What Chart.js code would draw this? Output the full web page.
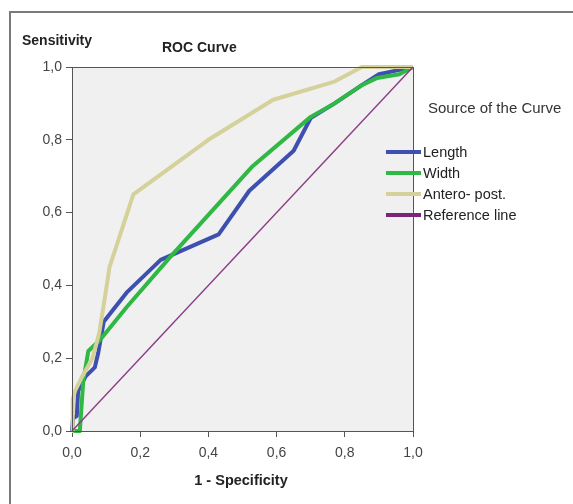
<!DOCTYPE html>
<html><head><meta charset="utf-8">
<script src="https://cdn.jsdelivr.net/npm/chart.js@4"></script>
<style>html,body{margin:0;padding:0;background:#fff}#wrap{width:573px;height:504px;position:relative}</style>
</head><body><div id="wrap"><canvas id="c" width="573" height="504"></canvas></div>
<script>
// ---- data ----
const lengthX = [0, 0.003, 0.014, 0.018, 0.04, 0.067, 0.077, 0.093, 0.16, 0.26, 0.43, 0.52, 0.65, 0.70, 0.77, 0.85, 0.90, 0.95, 1.0];
const lengthY = [0, 0.035, 0.041, 0.11, 0.15, 0.175, 0.215, 0.30, 0.38, 0.47, 0.54, 0.66, 0.77, 0.86, 0.90, 0.95, 0.98, 0.99, 1.0];
const widthX  = [0, 0.023, 0.033, 0.048, 0.082, 0.16, 0.287, 0.527, 0.70, 0.77, 0.85, 0.895, 0.96, 1.0];
const widthY  = [0, 0, 0.138, 0.22, 0.25, 0.34, 0.477, 0.725, 0.863, 0.90, 0.95, 0.97, 0.98, 1.0];
const anteroX = [0, 0.002, 0.009, 0.03, 0.06, 0.08, 0.097, 0.11, 0.18, 0.40, 0.59, 0.77, 0.85, 1.0];
const anteroY = [0, 0.087, 0.11, 0.15, 0.20, 0.27, 0.37, 0.45, 0.65, 0.80, 0.91, 0.96, 1.0, 1.0];
const refX = [0, 1];
const refY = [0, 1];
const seriesNames = ['Length', 'Width', 'Antero- post.', 'Reference line'];
const seriesColors = ['#3d50b0', '#2fb844', '#d5d19b', '#8a3d88'];
const legendColors = ['#3d50b0', '#2fb844', '#d5d19b', '#7a2579'];
const tickMin = 0, tickMax = 1, tickStep = 0.2;
const yTitle = 'Sensitivity';
const chartTitle = 'ROC Curve';
const xTitle = '1 - Specificity';
const legendTitle = 'Source of the Curve';

const toPts = (xs, ys) => xs.map((x, i) => ({x: x, y: ys[i]}));
const fmt = v => Number(v).toFixed(1).replace('.', ',');

const decor = {
  id: 'decor',
  beforeDatasetsDraw(chart) {
    const {ctx, chartArea: a} = chart;
    ctx.save();
    ctx.fillStyle = '#f0f0f0';
    ctx.fillRect(a.left, a.top, a.right - a.left, a.bottom - a.top);
    ctx.restore();
  },
  beforeDraw(chart) {
    const {ctx} = chart;
    ctx.save();
    ctx.fillStyle = '#fff';
    ctx.fillRect(0, 0, chart.width, chart.height);
    ctx.restore();
  },
  afterDraw(chart) {
    const {ctx, chartArea: a} = chart;
    ctx.save();
    // plot frame
    ctx.strokeStyle = '#555';
    ctx.lineWidth = 1;
    ctx.strokeRect(a.left + 0.5, a.top + 0.5, a.right - a.left, a.bottom - a.top);
    // outer frame
    ctx.strokeStyle = '#7a7a7a';
    ctx.lineWidth = 2;
    ctx.beginPath();
    ctx.moveTo(573, 12); ctx.lineTo(10, 12); ctx.lineTo(10, 504);
    ctx.stroke();
    // titles
    ctx.fillStyle = '#222';
    ctx.textBaseline = 'middle';
    ctx.font = 'bold 14px "Liberation Sans", Arial, sans-serif';
    ctx.textAlign = 'left';
    ctx.fillText(yTitle, 22, 41);
    ctx.fillText(chartTitle, 162, 48);
    ctx.textAlign = 'center';
    ctx.font = 'bold 14.5px "Liberation Sans", Arial, sans-serif';
    ctx.fillText(xTitle, 241, 481);
    ctx.textAlign = 'left';
    ctx.fillStyle = '#333';
    ctx.font = '15px "Liberation Sans", Arial, sans-serif';
    ctx.fillText(legendTitle, 428, 109);
    // legend
    ctx.font = '14.5px "Liberation Sans", Arial, sans-serif';
    seriesNames.forEach((n, i) => {
      const y = 152 + i * 21;
      ctx.strokeStyle = legendColors[i];
      ctx.lineWidth = 4;
      ctx.beginPath(); ctx.moveTo(386, y); ctx.lineTo(421, y); ctx.stroke();
      ctx.fillStyle = '#222';
      ctx.fillText(n, 423, y + 1);
    });
    ctx.restore();
  }
};

const xs = [lengthX, widthX, anteroX, refX];
const ys = [lengthY, widthY, anteroY, refY];
const datasets = seriesNames.map((n, i) => ({
  label: n,
  data: toPts(xs[i], ys[i]),
  borderColor: seriesColors[i],
  backgroundColor: seriesColors[i],
  borderWidth: i === 3 ? 1.4 : 4,
  showLine: true,
  pointRadius: 0,
  tension: 0,
  clip: false,
  order: 4 - i,
  borderJoinStyle: 'round'
}));

new Chart(document.getElementById('c'), {
  type: 'scatter',
  data: {datasets},
  options: {
    responsive: false,
    animation: false,
    devicePixelRatio: 1,
    layout: {padding: {top: 67, right: 160, left: 0, bottom: 0}},
    plugins: {legend: {display: false}, title: {display: false}, tooltip: {enabled: false}},
    scales: {
      x: {
        type: 'linear', min: tickMin, max: tickMax,
        afterFit: s => { s.height = 73; },
        grid: {drawOnChartArea: false, drawTicks: true, tickLength: 6, color: '#555'},
        border: {display: true, color: '#555'},
        ticks: {stepSize: tickStep, callback: fmt, color: '#444', padding: 8,
                font: {size: 14, family: '"Liberation Sans", Arial, sans-serif'}, maxRotation: 0}
      },
      y: {
        type: 'linear', min: tickMin, max: tickMax,
        afterFit: s => { s.width = 72; },
        grid: {drawOnChartArea: false, drawTicks: true, tickLength: 6, color: '#555'},
        border: {display: true, color: '#555'},
        ticks: {stepSize: tickStep, callback: fmt, color: '#444', padding: 4,
                font: {size: 14, family: '"Liberation Sans", Arial, sans-serif'}}
      }
    }
  },
  plugins: [decor]
});
</script></body></html>
